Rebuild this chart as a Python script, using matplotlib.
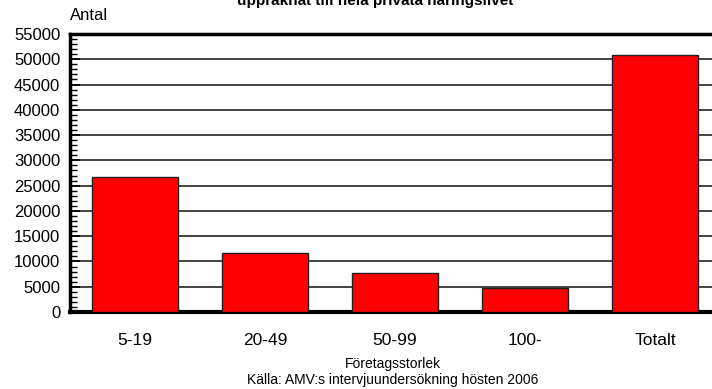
import numpy as np
import matplotlib.pyplot as plt
from matplotlib.ticker import MultipleLocator

plt.rcParams['font.family'] = ['Liberation Sans', 'DejaVu Sans']

categories = ['5-19', '20-49', '50-99', '100-', 'Totalt']
values = [26800, 11600, 7800, 4650, 50900]

fig = plt.figure(figsize=(7.12, 3.89), dpi=100)
ax = fig.add_axes([70 / 712, 1 - 312 / 389, 650 / 712, 278 / 389])

x = np.arange(len(categories))
ax.bar(x, values, width=0.66, color='#ff0000', edgecolor='#222222', linewidth=1, zorder=3)

ax.set_xlim(-0.5, 4.5)
ax.set_ylim(0, 55000)
ax.yaxis.set_major_locator(MultipleLocator(5000))
ax.yaxis.set_minor_locator(MultipleLocator(1000))
ax.grid(axis='y', color='#222222', linewidth=1.2, zorder=0)
ax.set_xticks(x)
ax.set_xticklabels(categories, fontsize=12.5)
ax.tick_params(axis='x', length=0, pad=15)
ax.tick_params(axis='y', which='major', direction='in', length=7, width=1.2, labelsize=12, pad=7)
ax.tick_params(axis='y', which='minor', direction='in', length=5, width=1)

ax.spines['left'].set_linewidth(2.5)
ax.spines['bottom'].set_linewidth(3)
ax.spines['top'].set_linewidth(2.5)
ax.spines['right'].set_visible(False)

fig.text(70 / 712, 1 - 16 / 389, 'Antal', fontsize=12, va='center', ha='left')
fig.text(375 / 712, 1 - 1 / 389, 'uppräknat till hela privata näringslivet',
         fontsize=11, fontweight='bold', ha='center', va='center')
fig.text(393 / 712, 1 - 364 / 389, 'Företagsstorlek', fontsize=10, ha='center', va='center')
fig.text(393 / 712, 1 - 380 / 389, 'Källa: AMV:s intervjuundersökning hösten 2006',
         fontsize=10, ha='center', va='center')

fig.savefig('out.png', dpi=100)
